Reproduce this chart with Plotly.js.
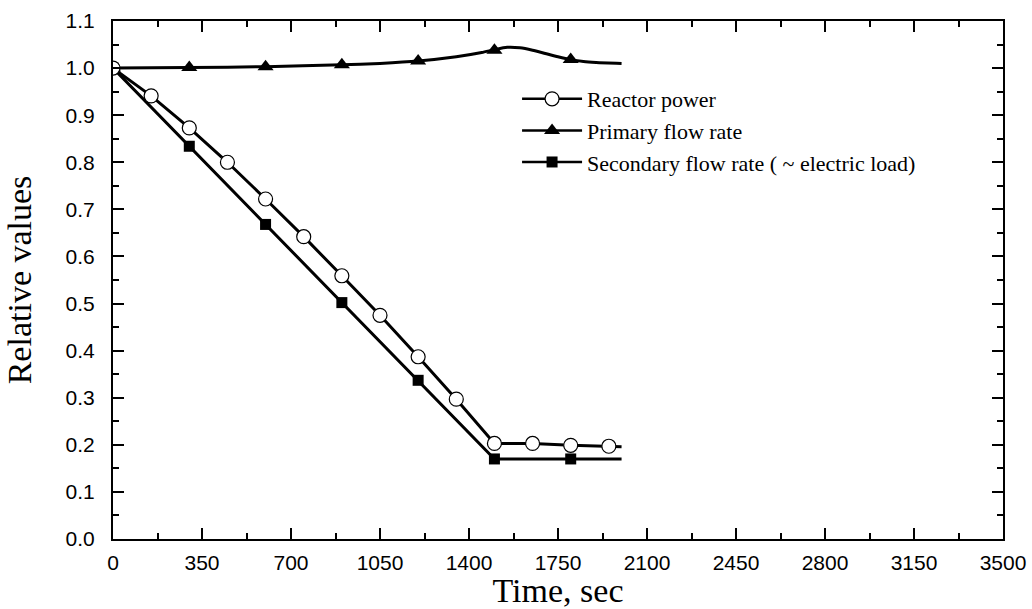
<!DOCTYPE html>
<html>
<head>
<meta charset="utf-8">
<script src="https://cdn.plot.ly/plotly-3.0.1.min.js"></script>
<style>html,body{margin:0;padding:0;background:#fff;}#chart{width:1032px;height:609px;}</style>
</head>
<body>
<div id="chart"></div>
<script>
// Reactor power
const powerX = [0, 150, 300, 450, 600, 750, 900, 1050, 1200, 1350, 1500, 1650, 1800, 1950];
const powerY = [1.000, 0.941, 0.873, 0.800, 0.722, 0.642, 0.559, 0.475, 0.387, 0.297, 0.203, 0.203, 0.199, 0.197];
const powerLineX = [0, 150, 300, 450, 600, 750, 900, 1050, 1200, 1350, 1500, 1650, 1800, 1950, 2000];
const powerLineY = [1.000, 0.941, 0.873, 0.800, 0.722, 0.642, 0.559, 0.475, 0.387, 0.297, 0.203, 0.203, 0.199, 0.197, 0.196];

// Primary flow rate
const primaryX = [0, 300, 600, 900, 1200, 1500, 1800];
const primaryY = [1.000, 1.001, 1.003, 1.007, 1.015, 1.038, 1.018];
const primaryLineX = [0, 300, 600, 900, 1050, 1200, 1350, 1450, 1500, 1550, 1600, 1650, 1700, 1750, 1800, 1850, 1900, 2000];
const primaryLineY = [1.000, 1.001, 1.003, 1.007, 1.010, 1.015, 1.024, 1.033, 1.039, 1.044, 1.043, 1.038, 1.031, 1.024, 1.018, 1.014, 1.012, 1.010];

// Secondary flow rate (~ electric load)
const secondaryX = [0, 300, 600, 900, 1200, 1500, 1800];
const secondaryY = [1.000, 0.834, 0.668, 0.502, 0.337, 0.170, 0.170];
const secondaryLineX = [0, 300, 600, 900, 1200, 1500, 1800, 2000];
const secondaryLineY = [1.000, 0.834, 0.668, 0.502, 0.337, 0.170, 0.170, 0.170];

const seriesNames = ['Reactor power', 'Primary flow rate', 'Secondary flow rate ( ~ electric load)'];

const xTickVals = [0, 350, 700, 1050, 1400, 1750, 2100, 2450, 2800, 3150, 3500];
const yTickVals = [0.0, 0.1, 0.2, 0.3, 0.4, 0.5, 0.6, 0.7, 0.8, 0.9, 1.0, 1.1];
const yTickText = ['0.0','0.1','0.2','0.3','0.4','0.5','0.6','0.7','0.8','0.9','1.0','1.1'];

const LW = 3;
const markerDefs = [
  {symbol: 'circle', size: 14, color: '#ffffff', line: {color: '#000', width: 1.2}},
  {symbol: 'triangle-up', size: 14, color: '#000', line: {color: '#000', width: 0}},
  {symbol: 'square', size: 11, color: '#000', line: {color: '#000', width: 0}}
];

const traces = [
  {x: primaryLineX, y: primaryLineY, mode: 'lines', line: {color: '#000', width: LW, shape: 'spline', smoothing: 0.6}, showlegend: false, hoverinfo: 'skip'},
  {x: primaryX, y: primaryY, mode: 'markers', marker: markerDefs[1], showlegend: false},
  {x: secondaryLineX, y: secondaryLineY, mode: 'lines', line: {color: '#000', width: LW}, showlegend: false, hoverinfo: 'skip'},
  {x: secondaryX, y: secondaryY, mode: 'markers', marker: markerDefs[2], showlegend: false},
  {x: powerLineX, y: powerLineY, mode: 'lines', line: {color: '#000', width: LW}, showlegend: false, hoverinfo: 'skip'},
  {x: powerX, y: powerY, mode: 'markers', marker: markerDefs[0], showlegend: false},
  // legend entries
  {x: [-1000], y: [-1], mode: 'lines+markers', name: seriesNames[0], line: {color: '#000', width: 2.5}, marker: markerDefs[0]},
  {x: [-1000], y: [-1], mode: 'lines+markers', name: seriesNames[1], line: {color: '#000', width: 2.5}, marker: markerDefs[1]},
  {x: [-1000], y: [-1], mode: 'lines+markers', name: seriesNames[2], line: {color: '#000', width: 2.5}, marker: markerDefs[2]}
];

const axisCommon = {
  showline: true, linecolor: '#000', linewidth: 2, mirror: 'ticks',
  ticks: 'inside', ticklen: 11, tickwidth: 2, tickcolor: '#000',
  showgrid: false, zeroline: false,
  tickfont: {family: 'Liberation Sans, Arial, sans-serif', size: 21, color: '#000'}
};

const layout = {
  width: 1032, height: 609,
  paper_bgcolor: '#fff', plot_bgcolor: '#fff',
  margin: {l: 113, r: 29, t: 21, b: 70},
  xaxis: Object.assign({}, axisCommon, {
    range: [0, 3500], tickmode: 'array', tickvals: xTickVals,
    minor: {dtick: 175, tick0: 0, ticks: 'inside', ticklen: 6, tickwidth: 2, tickcolor: '#000', showgrid: false},
    ticklabelstandoff: 4,
    title: {text: 'Time, sec', font: {family: 'Liberation Serif, Times New Roman, serif', size: 34, color: '#000'}, standoff: 11}
  }),
  yaxis: Object.assign({}, axisCommon, {
    range: [0, 1.1], tickmode: 'array', tickvals: yTickVals, ticktext: yTickText,
    minor: {dtick: 0.05, tick0: 0, ticks: 'inside', ticklen: 6, tickwidth: 2, tickcolor: '#000', showgrid: false},
    ticklabelstandoff: 12,
    title: {text: 'Relative values', font: {family: 'Liberation Serif, Times New Roman, serif', size: 34, color: '#000'}, standoff: 24}
  }),
  legend: {
    x: 0.454, y: 0.89, xanchor: 'left', yanchor: 'top',
    bgcolor: 'rgba(0,0,0,0)', borderwidth: 0,
    itemwidth: 60,
    tracegroupgap: 0,
    font: {family: 'Liberation Serif, Times New Roman, serif', size: 22, color: '#000'}
  },
  showlegend: true
};

Plotly.newPlot('chart', traces, layout, {displayModeBar: false, staticPlot: true});
</script>
</body>
</html>
